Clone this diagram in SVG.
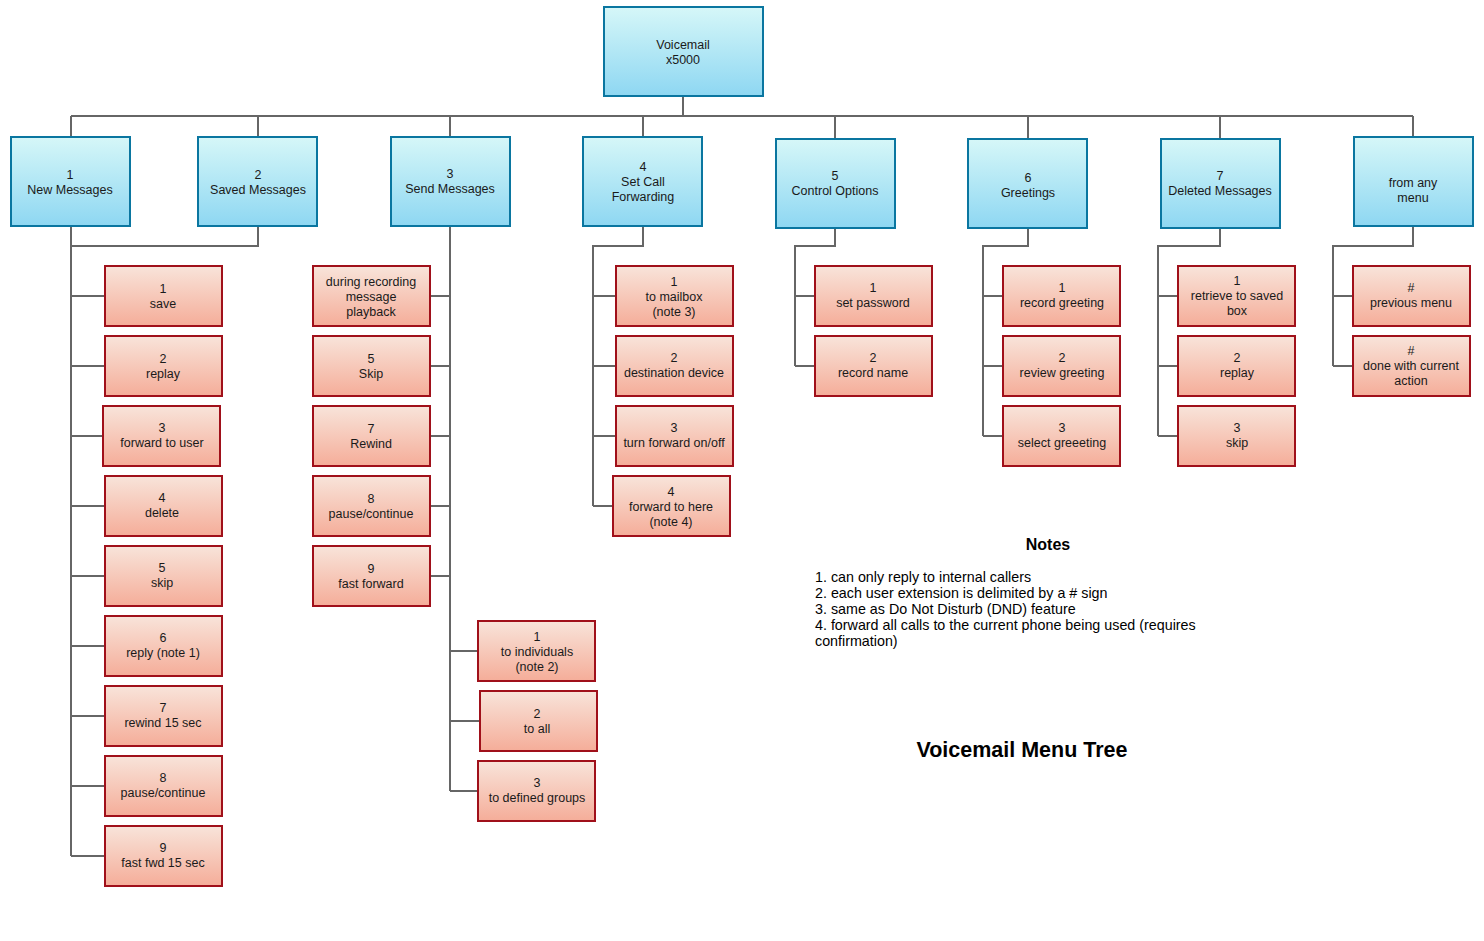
<svg xmlns="http://www.w3.org/2000/svg" width="1484" height="941" viewBox="0 0 1484 941">
<defs>
<linearGradient id="gb" x1="0" y1="0" x2="0" y2="1"><stop offset="0" stop-color="#d6f7f8"/><stop offset="1" stop-color="#8ed7f2"/></linearGradient>
<linearGradient id="gr" x1="0" y1="0" x2="0" y2="1"><stop offset="0" stop-color="#f8e4da"/><stop offset="1" stop-color="#f5ad99"/></linearGradient>
<style>
.b{fill:url(#gb);stroke:#0a76a0;stroke-width:2}
.r{fill:url(#gr);stroke:#a0101a;stroke-width:2}
.t{font-family:"Liberation Sans",Arial,sans-serif;font-size:12.5px;fill:#1a1a1a;text-anchor:middle}
.c{fill:none;stroke:#666;stroke-width:2}
.n{font-family:"Liberation Sans",Arial,sans-serif;font-size:14.3px;fill:#000}
</style>
</defs>
<rect width="1484" height="941" fill="#fff"/>
<g id="connectors" class="c">
<path d="M683 96V116M71 116H1413M71 116V137M258 116V137M450 116V137M643 116V137M835 116V139M1028 116V139M1220 116V139M1413 116V137"/>
<path d="M258 226V246H71M71 226V856M71 296H105M71 366H105M71 436H103M71 506H105M71 576H105M71 646H105M71 716H105M71 786H105M71 856H105"/>
<path d="M450 226V791M430 296H450M430 366H450M430 436H450M430 506H450M430 576H450M450 651H478M450 721H480M450 791H478"/>
<path d="M643 226V246H593V506M593 296H616M593 366H616M593 436H616M593 506H613"/>
<path d="M835 228V246H795V366M795 296H815M795 366H815"/>
<path d="M1028 228V246H983V436M983 296H1003M983 366H1003M983 436H1003"/>
<path d="M1220 228V246H1158V436M1158 296H1178M1158 366H1178M1158 436H1178"/>
<path d="M1413 226V246H1333V366M1333 296H1353M1333 366H1353"/>
</g>
<g id="root"><rect class="b" x="604" y="7" width="159" height="89"/><text class="t" x="683" y="49">Voicemail</text><text class="t" x="683" y="64">x5000</text></g>
<g id="n1"><rect class="b" x="11" y="137" width="119" height="89"/><text class="t" x="70" y="179">1</text><text class="t" x="70" y="194">New Messages</text></g>
<g id="n2"><rect class="b" x="198" y="137" width="119" height="89"/><text class="t" x="258" y="179">2</text><text class="t" x="258" y="194">Saved Messages</text></g>
<g id="n3"><rect class="b" x="391" y="137" width="119" height="89"/><text class="t" x="450" y="178">3</text><text class="t" x="450" y="193">Send Messages</text></g>
<g id="n4"><rect class="b" x="583" y="137" width="119" height="89"/><text class="t" x="643" y="171">4</text><text class="t" x="643" y="186">Set Call</text><text class="t" x="643" y="201">Forwarding</text></g>
<g id="n5"><rect class="b" x="776" y="139" width="119" height="89"/><text class="t" x="835" y="180">5</text><text class="t" x="835" y="195">Control Options</text></g>
<g id="n6"><rect class="b" x="968" y="139" width="119" height="89"/><text class="t" x="1028" y="182">6</text><text class="t" x="1028" y="197">Greetings</text></g>
<g id="n7"><rect class="b" x="1161" y="139" width="119" height="89"/><text class="t" x="1220" y="180">7</text><text class="t" x="1220" y="195">Deleted Messages</text></g>
<g id="n8"><rect class="b" x="1354" y="137" width="119" height="89"/><text class="t" x="1413" y="187">from any</text><text class="t" x="1413" y="202">menu</text></g>

<g id="n1-1"><rect class="r" x="105" y="266" width="117" height="60"/><text class="t" x="163" y="293">1</text><text class="t" x="163" y="308">save</text></g>
<g id="n1-2"><rect class="r" x="105" y="336" width="117" height="60"/><text class="t" x="163" y="363">2</text><text class="t" x="163" y="378">replay</text></g>
<g id="n1-3"><rect class="r" x="103" y="406" width="117" height="60"/><text class="t" x="162" y="432">3</text><text class="t" x="162" y="447">forward to user</text></g>
<g id="n1-4"><rect class="r" x="105" y="476" width="117" height="60"/><text class="t" x="162" y="502">4</text><text class="t" x="162" y="517">delete</text></g>
<g id="n1-5"><rect class="r" x="105" y="546" width="117" height="60"/><text class="t" x="162" y="572">5</text><text class="t" x="162" y="587">skip</text></g>
<g id="n1-6"><rect class="r" x="105" y="616" width="117" height="60"/><text class="t" x="163" y="642">6</text><text class="t" x="163" y="657">reply (note 1)</text></g>
<g id="n1-7"><rect class="r" x="105" y="686" width="117" height="60"/><text class="t" x="163" y="712">7</text><text class="t" x="163" y="727">rewind 15 sec</text></g>
<g id="n1-8"><rect class="r" x="105" y="756" width="117" height="60"/><text class="t" x="163" y="782">8</text><text class="t" x="163" y="797">pause/continue</text></g>
<g id="n1-9"><rect class="r" x="105" y="826" width="117" height="60"/><text class="t" x="163" y="852">9</text><text class="t" x="163" y="867">fast fwd 15 sec</text></g>

<g id="n3-a"><rect class="r" x="313" y="266" width="117" height="60"/><text class="t" x="371" y="286">during recording</text><text class="t" x="371" y="301">message</text><text class="t" x="371" y="316">playback</text></g>
<g id="n3-5"><rect class="r" x="313" y="336" width="117" height="60"/><text class="t" x="371" y="363">5</text><text class="t" x="371" y="378">Skip</text></g>
<g id="n3-7"><rect class="r" x="313" y="406" width="117" height="60"/><text class="t" x="371" y="433">7</text><text class="t" x="371" y="448">Rewind</text></g>
<g id="n3-8"><rect class="r" x="313" y="476" width="117" height="60"/><text class="t" x="371" y="503">8</text><text class="t" x="371" y="518">pause/continue</text></g>
<g id="n3-9"><rect class="r" x="313" y="546" width="117" height="60"/><text class="t" x="371" y="573">9</text><text class="t" x="371" y="588">fast forward</text></g>
<g id="n3-1"><rect class="r" x="478" y="621" width="117" height="60"/><text class="t" x="537" y="641">1</text><text class="t" x="537" y="656">to individuals</text><text class="t" x="537" y="671">(note 2)</text></g>
<g id="n3-2"><rect class="r" x="480" y="691" width="117" height="60"/><text class="t" x="537" y="718">2</text><text class="t" x="537" y="733">to all</text></g>
<g id="n3-3"><rect class="r" x="478" y="761" width="117" height="60"/><text class="t" x="537" y="787">3</text><text class="t" x="537" y="802">to defined groups</text></g>

<g id="n4-1"><rect class="r" x="616" y="266" width="117" height="60"/><text class="t" x="674" y="286">1</text><text class="t" x="674" y="301">to mailbox</text><text class="t" x="674" y="316">(note 3)</text></g>
<g id="n4-2"><rect class="r" x="616" y="336" width="117" height="60"/><text class="t" x="674" y="362">2</text><text class="t" x="674" y="377">destination device</text></g>
<g id="n4-3"><rect class="r" x="616" y="406" width="117" height="60"/><text class="t" x="674" y="432">3</text><text class="t" x="674" y="447">turn forward on/off</text></g>
<g id="n4-4"><rect class="r" x="613" y="476" width="117" height="60"/><text class="t" x="671" y="496">4</text><text class="t" x="671" y="511">forward to here</text><text class="t" x="671" y="526">(note 4)</text></g>

<g id="n5-1"><rect class="r" x="815" y="266" width="117" height="60"/><text class="t" x="873" y="292">1</text><text class="t" x="873" y="307">set password</text></g>
<g id="n5-2"><rect class="r" x="815" y="336" width="117" height="60"/><text class="t" x="873" y="362">2</text><text class="t" x="873" y="377">record name</text></g>

<g id="n6-1"><rect class="r" x="1003" y="266" width="117" height="60"/><text class="t" x="1062" y="292">1</text><text class="t" x="1062" y="307">record greeting</text></g>
<g id="n6-2"><rect class="r" x="1003" y="336" width="117" height="60"/><text class="t" x="1062" y="362">2</text><text class="t" x="1062" y="377">review greeting</text></g>
<g id="n6-3"><rect class="r" x="1003" y="406" width="117" height="60"/><text class="t" x="1062" y="432">3</text><text class="t" x="1062" y="447">select greeeting</text></g>

<g id="n7-1"><rect class="r" x="1178" y="266" width="117" height="60"/><text class="t" x="1237" y="285">1</text><text class="t" x="1237" y="300">retrieve to saved</text><text class="t" x="1237" y="315">box</text></g>
<g id="n7-2"><rect class="r" x="1178" y="336" width="117" height="60"/><text class="t" x="1237" y="362">2</text><text class="t" x="1237" y="377">replay</text></g>
<g id="n7-3"><rect class="r" x="1178" y="406" width="117" height="60"/><text class="t" x="1237" y="432">3</text><text class="t" x="1237" y="447">skip</text></g>

<g id="n8-1"><rect class="r" x="1353" y="266" width="117" height="60"/><text class="t" x="1411" y="292">#</text><text class="t" x="1411" y="307">previous menu</text></g>
<g id="n8-2"><rect class="r" x="1353" y="336" width="117" height="60"/><text class="t" x="1411" y="355">#</text><text class="t" x="1411" y="370">done with current</text><text class="t" x="1411" y="385">action</text></g>

<g id="notes">
<text x="1048" y="550" font-family="Liberation Sans,Arial,sans-serif" font-size="16" font-weight="bold" text-anchor="middle">Notes</text>
<text class="n" x="815" y="582">1. can only reply to internal callers</text>
<text class="n" x="815" y="598">2. each user extension is delimited by a # sign</text>
<text class="n" x="815" y="614">3. same as Do Not Disturb (DND) feature</text>
<text class="n" x="815" y="630">4. forward all calls to the current phone being used (requires</text>
<text class="n" x="815" y="646">confirmation)</text>
</g>
<g id="title"><text x="1022" y="757" font-family="Liberation Sans,Arial,sans-serif" font-size="21.5" font-weight="bold" text-anchor="middle">Voicemail Menu Tree</text></g>
</svg>
